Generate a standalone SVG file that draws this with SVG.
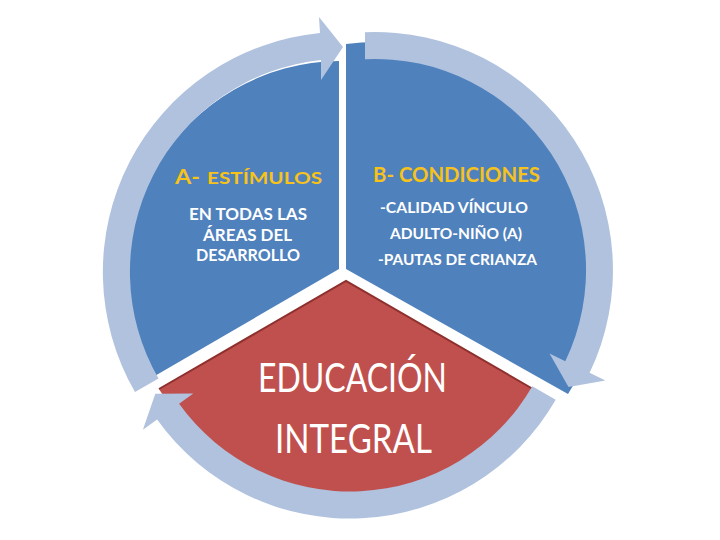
<svg xmlns="http://www.w3.org/2000/svg" width="720" height="540" viewBox="0 0 720 540">
<style>
.blue{fill:#4F81BD}
.red{fill:#C0504D}
.band{fill:#B0C2DE}
.edge{fill:none;stroke:#8E302D;stroke-width:2}
.t{font-family:Lato,"Liberation Sans","DejaVu Sans",sans-serif}
.head{fill:#F7C21A;font-weight:bold}
.body{fill:#FFFFFF;font-weight:bold}
.big{fill:#FFFFFF;font-size:40px}
</style>
<rect width="720" height="540" fill="#FFFFFF"/>
<g id="sector-a">
<path class="blue" d="M339,269 L339,61 A214,214 0 0 0 153,377 Z"/>
<text class="t head" x="175" y="184" font-size="21" textLength="25" lengthAdjust="spacingAndGlyphs">A-</text>
<text class="t head" x="207" y="184" font-size="17" textLength="115" lengthAdjust="spacingAndGlyphs">ESTÍMULOS</text>
<text class="t body" x="189" y="220" font-size="17" textLength="118" lengthAdjust="spacingAndGlyphs">EN TODAS LAS</text>
<text class="t body" x="203" y="241" font-size="17" textLength="89" lengthAdjust="spacingAndGlyphs">ÁREAS DEL</text>
<text class="t body" x="196" y="261" font-size="17" textLength="104" lengthAdjust="spacingAndGlyphs">DESARROLLO</text>
</g>
<g id="sector-b">
<path class="blue" d="M346,269 L346,44 A228,228 0 0 1 568,394 Z"/>
<text class="t head" x="373" y="182" font-size="21.5" textLength="167" lengthAdjust="spacingAndGlyphs">B- CONDICIONES</text>
<text class="t body" x="380" y="213" font-size="15" textLength="148" lengthAdjust="spacingAndGlyphs">-CALIDAD VÍNCULO</text>
<text class="t body" x="390" y="239" font-size="15" textLength="132" lengthAdjust="spacingAndGlyphs">ADULTO-NIÑO (A)</text>
<text class="t body" x="378" y="265" font-size="15" textLength="159" lengthAdjust="spacingAndGlyphs">-PAUTAS DE CRIANZA</text>
</g>
<g id="sector-c">
<path class="red" d="M346,281 L533,389 A217,217 0 0 1 159,389 Z"/>
<polyline class="edge" points="159,389 346,281 533,389"/>
<text class="t big" x="258" y="392" textLength="189" lengthAdjust="spacingAndGlyphs">EDUCACIÓN</text>
<text class="t big" x="275" y="453" textLength="157" lengthAdjust="spacingAndGlyphs">INTEGRAL</text>
</g>
<g id="connectors">
<path id="arrow-a" class="band" d="M135,392 A240,240 0 0 1 320,33.1 L319,17 L343,47 L321,80 L321,60.1 A213,213 0 0 0 158.5,378.5 Z"/>
<path id="arrow-b" class="band" d="M365,32.2 A238,238 0 0 1 589.6,372.8 L605.4,380.4 L568.5,387 L549.5,353.6 L565.3,361.2 A211,211 0 0 0 365,59.2 Z"/>
<path id="arrow-c" class="band" d="M555.7,399.8 A237.5,237.5 0 0 1 157.1,419.6 L142.9,429.8 L155.3,393.8 L193.3,393.6 L179.1,403.8 A210.5,210.5 0 0 0 532.3,386.3 Z"/>
</g>
</svg>
